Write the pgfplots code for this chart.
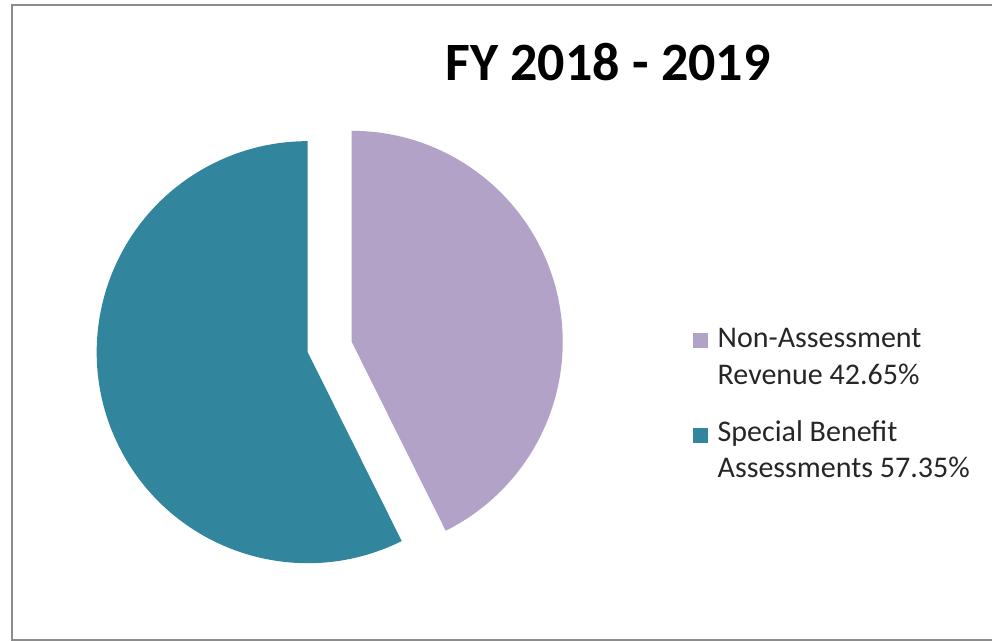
\documentclass[border=0pt]{standalone}
\usepackage{pgfplots}
\pgfplotsset{compat=1.18}
\usepackage{pgfplotstable}
\usepackage{fontspec}
\setmainfont{Carlito}
\usetikzlibrary{calc}

\definecolor{lav}{HTML}{B3A2C7}
\definecolor{teal}{HTML}{31859C}
\definecolor{frame}{HTML}{8C8C8C}

% share of revenue, percent
\pgfplotstableread{
label value
NonAssessment 42.65
Special 57.35
}\revtable

\begin{document}
\begin{tikzpicture}
\begin{axis}[
    hide axis,
    x=1bp, y=1bp,
    xmin=0, xmax=992,
    ymin=-641, ymax=0,
    clip=false,
]
    \path[use as bounding box] (axis cs:0,0) rectangle (axis cs:992,-641);
    % frame: right side is cut off in the original
    \draw[frame, line width=2bp] (axis cs:993,-5.3) -- (axis cs:12,-5.3)
        -- (axis cs:12,-640) -- (axis cs:993,-640);

    \pgfplotstablegetelem{0}{value}\of\revtable
    \let\va\pgfplotsretval
    \pgfmathsetmacro\aEnd{90-\va*3.6}
    \pgfmathsetmacro\aMidA{90-\va*1.8}
    \pgfmathsetmacro\aMidB{\aMidA+180}

    % exploded slices
    \fill[lav] ($(axis cs:329.7,-347)+(\aMidA:22.6bp)$) -- ++(90:211bp)
        arc[start angle=90, end angle=\aEnd, radius=211bp] -- cycle;
    \fill[teal] ($(axis cs:329.7,-347)+(\aMidB:22.6bp)$) -- ++(\aEnd:211bp)
        arc[start angle=\aEnd, end angle=-270, radius=211bp] -- cycle;

    \node[anchor=base, font=\fontsize{54bp}{60bp}\selectfont\bfseries]
        at (axis cs:608,-81) {FY 2018 - 2019};

    % legend
    \fill[lav] (axis cs:693,-333) rectangle (axis cs:708,-348);
    \fill[teal] (axis cs:693,-428) rectangle (axis cs:708,-443);
    \begin{scope}[every node/.style={anchor=base west, inner sep=0pt,
        font=\fontsize{30bp}{37bp}\selectfont, text=black!85}]
        \node at (axis cs:717.5,-348) {Non-Assessment};
        \node at (axis cs:717.5,-385) {Revenue 42.65\%};
        \node at (axis cs:717.5,-442) {Special Benefit};
        \node at (axis cs:717.5,-478) {Assessments 57.35\%};
    \end{scope}
\end{axis}
\end{tikzpicture}
\end{document}
